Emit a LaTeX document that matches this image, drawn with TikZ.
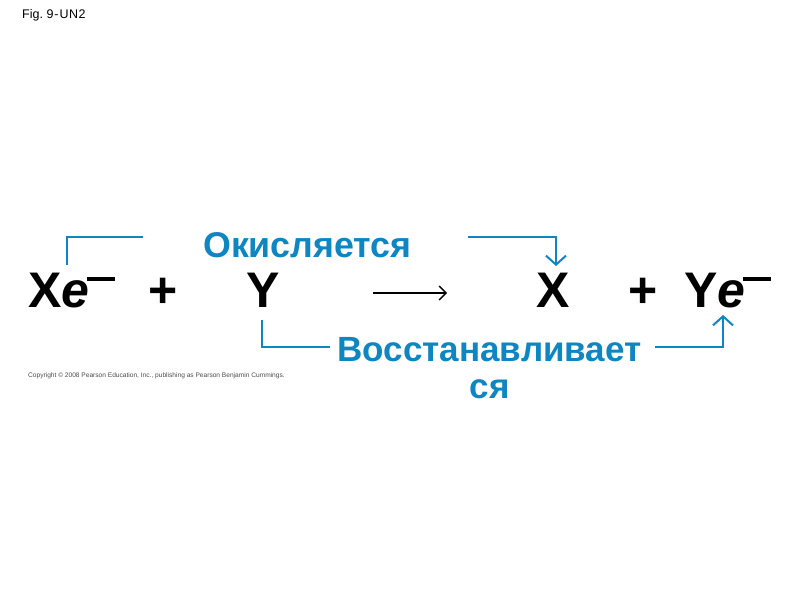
\documentclass[tikz,border=0pt]{standalone}
\usepackage{fontspec}
\setmainfont{Liberation Sans}
\usetikzlibrary{arrows.meta}
\definecolor{oxblue}{RGB}{14,134,194}
\newcommand\elminus{\kern-0.04em\raisebox{0.52em}{\rule{0.56em}{0.08em}}}
\begin{document}
\begin{tikzpicture}[x=1pt,y=-1pt,
  eq/.style={anchor=base west,inner sep=0pt,font=\fontsize{50}{60}\selectfont\bfseries},
  lbl/.style={inner sep=0pt,text=oxblue,font=\fontsize{35}{37}\selectfont\bfseries},
  bracket/.style={draw=oxblue,line width=2pt},
  bluetip/.style={-{Straight Barb[length=9pt,width=20pt,line width=2pt]}},
  rxn/.style={draw=black,line width=1.3pt,-{Straight Barb[length=7pt,width=14pt,line width=1.3pt]}}
]
\useasboundingbox[fill=white] (0,0) rectangle (800,600);

% caption and copyright
\node[anchor=base west,inner sep=0pt,font=\fontsize{12.5}{14}\selectfont] (fig) at (22,18) {Fig.\ 9\kern1pt-\kern1pt U\kern0.5pt N\kern0.5pt 2};
\node[anchor=base west,inner sep=0pt,text=black!70,font=\fontsize{6.6}{7}\selectfont] (copy) at (28,377)
  {Copyright \textcopyright\ 2008 Pearson Education, Inc., publishing as Pearson Benjamin Cummings.};

% equation
\node[eq] (xe) at (28,307) {X\textit{e}\elminus};
\node[eq] (plus1) at (148,307) {+};
\node[eq] (y) at (246,307) {Y};
\node[eq] (x) at (536,307) {X};
\node[eq] (plus2) at (628,307) {+};
\node[eq] (ye) at (684,307) {Y\textit{e}\elminus};

\coordinate (ra) at (373,293);
\coordinate (rb) at (447,293);
\draw[rxn] (ra) -- (rb);

% labels
\node[lbl,anchor=base west,font=\fontsize{35.8}{37}\selectfont\bfseries] (ox) at (203,257) {Окисляется};
\node[lbl,anchor=north,align=center] (red) at (489.5,337) {Восстанавливает\\ся};

% oxidation bracket
\coordinate (o1) at (67,265);
\coordinate (o2) at (143,237);
\coordinate (o3) at (468,237);
\coordinate (o4) at (556,266);
\draw[bracket] (o1) |- (o2);
\draw[bracket,bluetip] (o3) -| (o4);

% reduction bracket
\coordinate (r1) at (262,320);
\coordinate (r2) at (330,347);
\coordinate (r3) at (655,347);
\coordinate (r4) at (723,315);
\draw[bracket] (r1) |- (r2);
\draw[bracket,bluetip] (r3) -| (r4);
\end{tikzpicture}
\end{document}
